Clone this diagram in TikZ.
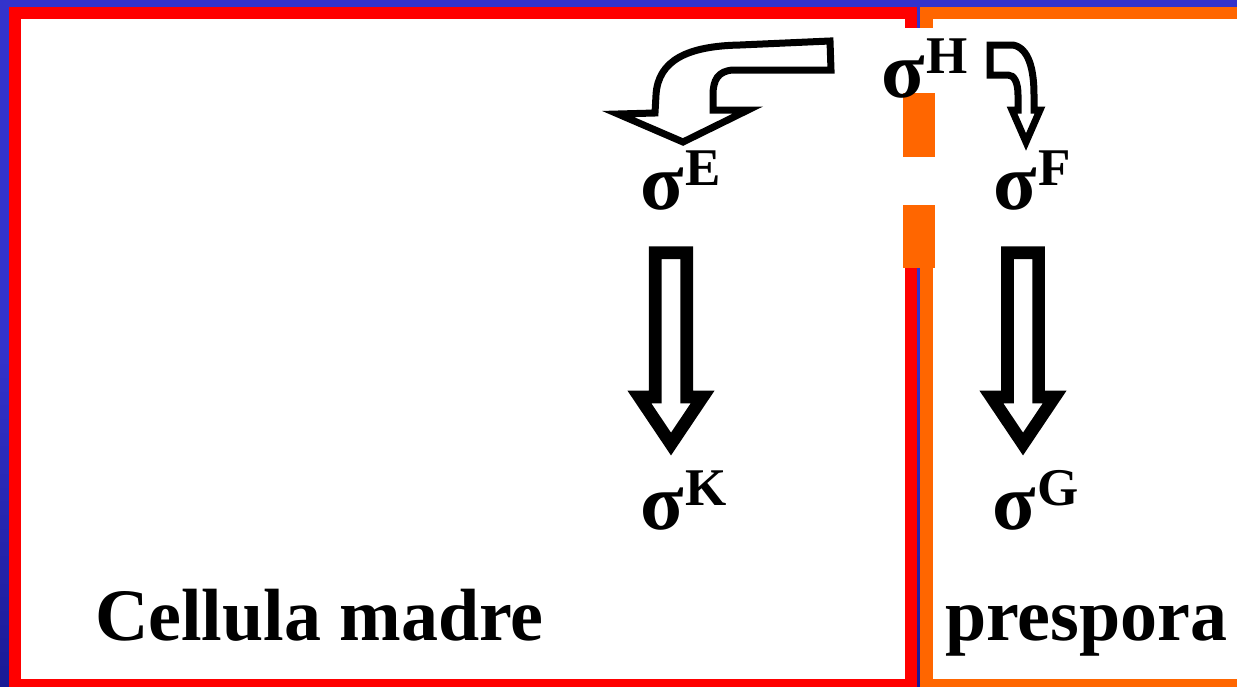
\documentclass[tikz,border=0pt]{standalone}
\usepackage{fontspec}
\setmainfont{Liberation Serif}
\definecolor{bgblue}{RGB}{51,51,204}
\definecolor{bgbluedark}{RGB}{26,26,150}
\definecolor{fred}{RGB}{255,0,0}
\definecolor{forange}{RGB}{255,102,0}
\newcommand{\sigl}[1]{\fontsize{80}{90}\selectfont σ\kern2pt\raisebox{24pt}{\fontsize{53}{60}\selectfont #1}}
\tikzset{
  lab/.style={inner sep=0pt, outer sep=0pt, anchor=base west, font=\bfseries, text=black},
  word/.style={inner sep=0pt, outer sep=0pt, anchor=base west, font=\bfseries\fontsize{74}{88}\selectfont, text=black},
  bigarrow/.style={draw=black, fill=white, line width=12.7pt, line join=miter},
  curvarrow/.style={draw=black, fill=white, line width=7pt, line join=miter}
}
\begin{document}
\begin{tikzpicture}[x=1pt,y=-1pt]
\useasboundingbox (0,0) rectangle (1237,686);
\clip (0,0) rectangle (1237,686);
% background and frames
\shade[top color=bgblue, bottom color=bgbluedark, middle color=bgblue] (0,0) rectangle (1237,686);
\draw[fred, fill=white, line width=12pt] (15,13) rectangle (911,685);
\draw[forange, fill=white, line width=12.5pt] (926.5,13) rectangle (1245,685);
% gap in the divider and orange blocks
\fill[white] (900,28) rectangle (937,205);
\fill[forange] (903,93) rectangle (935,157);
\fill[forange] (903,205) rectangle (935,268);
% straight block arrows
\draw[bigarrow] (655.3,252.8) -- (655.3,397) -- (639.4,397) -- (671,444) -- (702.6,397) -- (686.8,397) -- (686.8,252.8) -- cycle;
\draw[bigarrow] (1007.4,252.8) -- (1007.4,397) -- (991.4,397) -- (1023,444) -- (1054.6,397) -- (1038.6,397) -- (1038.6,252.8) -- cycle;
% curved arrow H -> E
\draw[curvarrow] (830,41) -- (831,70) -- (733,70) .. controls (718,71) and (713,80) .. (713,95) -- (713,110) -- (748,110) -- (683,142) -- (618,114) -- (655,113) -- (656,95) .. controls (658,60) and (688,46) .. (740,45) -- cycle;
% curved arrow H -> F
\draw[curvarrow] (990,45) -- (1013,45) .. controls (1029,48) and (1034,70) .. (1034,95) -- (1034,110) -- (1040,110) -- (1026,142) -- (1012,110) -- (1018,110) -- (1018,95) .. controls (1018,82) and (1014,75) .. (1008,75) -- (990,75) -- cycle;
% labels
\node[lab] (sH) at (881,97) {\sigl{H}};
\node[lab] (sE) at (640,209) {\sigl{E}};
\node[lab] (sF) at (993,209) {\sigl{F}};
\node[lab] (sK) at (640,529) {\sigl{K}};
\node[lab] (sG) at (992,529) {\sigl{G}};
\node[word] (cm) at (95,640) {Cellula madre};
\node[word] (pr) at (945,640) {prespora};
\end{tikzpicture}
\end{document}
